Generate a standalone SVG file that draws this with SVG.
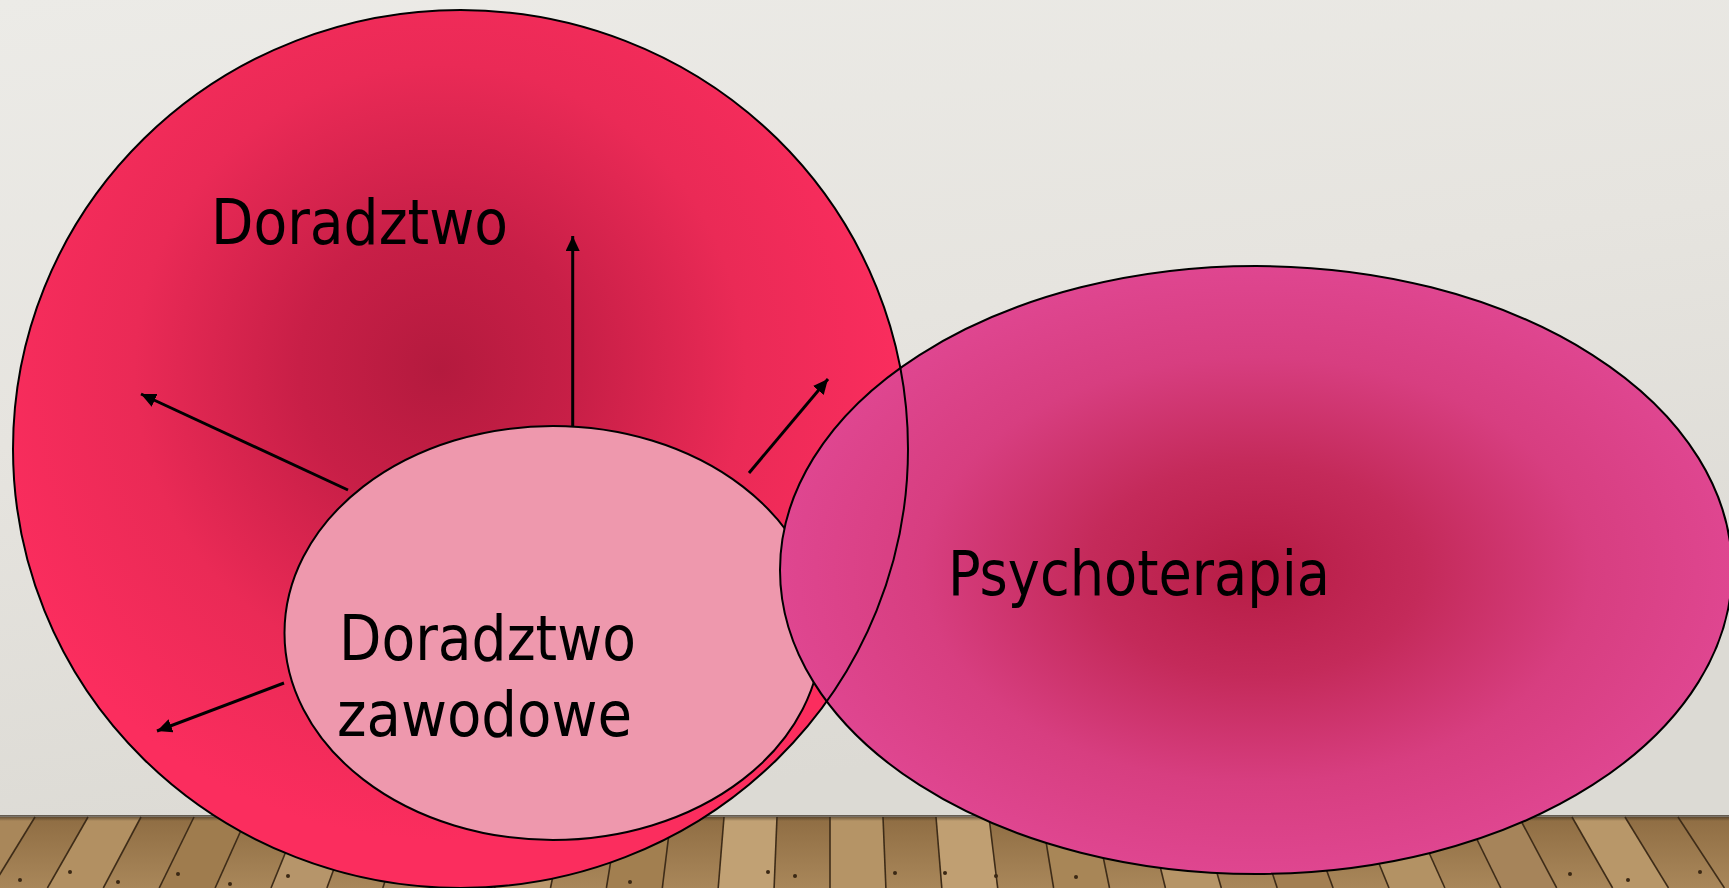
<svg xmlns="http://www.w3.org/2000/svg" width="1729" height="888" viewBox="0 0 1729 888">
<style>
.outline{stroke:#000;stroke-width:2;}
.label{font-family:"DejaVu Sans Condensed","DejaVu Sans",sans-serif;font-stretch:condensed;font-size:63px;fill:#000;}
.conn{stroke:#000;stroke-width:3;fill:none;marker-end:url(#arrow);}
.plankline{stroke:#3e2c18;stroke-width:1.6;}
.nail{fill:#3a2814;}
</style>
<defs>
<linearGradient id="wall" x1="0" y1="0" x2="0.3" y2="1">
<stop offset="0" stop-color="#ecebe7"/>
<stop offset="0.5" stop-color="#e6e4df"/>
<stop offset="1" stop-color="#dcdad4"/>
</linearGradient>
<linearGradient id="floor" x1="0" y1="0" x2="0" y2="1">
<stop offset="0" stop-color="#8f6d43"/>
<stop offset="1" stop-color="#a9875a"/>
</linearGradient>
<linearGradient id="shadow" x1="0" y1="0" x2="0" y2="1">
<stop offset="0" stop-color="#2e2215" stop-opacity="0.75"/>
<stop offset="1" stop-color="#2e2215" stop-opacity="0"/>
</linearGradient>
<radialGradient id="gBig" gradientUnits="userSpaceOnUse" cx="440" cy="370" r="470">
<stop offset="0" stop-color="#b41a3e"/>
<stop offset="0.3" stop-color="#c81f47"/>
<stop offset="0.65" stop-color="#ea2a56"/>
<stop offset="1" stop-color="#fb2d5e"/>
</radialGradient>
<radialGradient id="gPsy" cx="0.5" cy="0.5" r="0.5">
<stop offset="0" stop-color="#b61c44"/>
<stop offset="0.35" stop-color="#c42a5a"/>
<stop offset="0.7" stop-color="#d73e80"/>
<stop offset="1" stop-color="#df4690"/>
</radialGradient>
<marker id="arrow" markerUnits="userSpaceOnUse" markerWidth="18" markerHeight="16" refX="15" refY="7" orient="auto">
<path d="M0,0 L15,7 L0,14 Z" fill="#000"/>
</marker>
</defs>

<g id="background">
<rect x="0" y="0" width="1729" height="817" fill="url(#wall)"/>
<rect x="0" y="817" width="1729" height="71" fill="url(#floor)"/>
<g id="planks">
<polygon points="-18,817 35,817 -8.5,888 -64,888" fill="#a9875a"/>
<polygon points="88,817 141,817 103.3,888 47.4,888" fill="#b29062"/>
<polygon points="194,817 247,817 215.1,888 159.2,888" fill="#9f7c4e"/>
<polygon points="300,817 353,817 326.9,888 271,888" fill="#b6956a"/>
<polygon points="406,817 459,817 438.7,888 382.8,888" fill="#a5835a"/>
<polygon points="512,817 565,817 550.5,888 494.6,888" fill="#b9986c"/>
<polygon points="618,817 671,817 662.3,888 606.4,888" fill="#a27f50"/>
<polygon points="724,817 777,817 774.1,888 718.2,888" fill="#c1a174"/>
<polygon points="830,817 883,817 885.9,888 830,888" fill="#b59466"/>
<polygon points="936,817 989,817 997.7,888 941.8,888" fill="#c09f72"/>
<polygon points="1042,817 1095,817 1109.5,888 1053.6,888" fill="#a88657"/>
<polygon points="1148,817 1201,817 1221.3,888 1165.4,888" fill="#b69567"/>
<polygon points="1254,817 1307,817 1333.1,888 1277.2,888" fill="#a37f52"/>
<polygon points="1360,817 1413,817 1444.9,888 1389,888" fill="#b39264"/>
<polygon points="1466,817 1519,817 1556.7,888 1500.8,888" fill="#a6845a"/>
<polygon points="1572,817 1625,817 1668.5,888 1612.6,888" fill="#b89769"/>
<line class="plankline" x1="-18" y1="817" x2="-64" y2="888"/>
<line class="plankline" x1="35" y1="817" x2="-8.5" y2="888"/>
<line class="plankline" x1="88" y1="817" x2="47.4" y2="888"/>
<line class="plankline" x1="141" y1="817" x2="103.3" y2="888"/>
<line class="plankline" x1="194" y1="817" x2="159.2" y2="888"/>
<line class="plankline" x1="247" y1="817" x2="215.1" y2="888"/>
<line class="plankline" x1="300" y1="817" x2="271" y2="888"/>
<line class="plankline" x1="353" y1="817" x2="326.9" y2="888"/>
<line class="plankline" x1="406" y1="817" x2="382.8" y2="888"/>
<line class="plankline" x1="459" y1="817" x2="438.7" y2="888"/>
<line class="plankline" x1="512" y1="817" x2="494.6" y2="888"/>
<line class="plankline" x1="565" y1="817" x2="550.5" y2="888"/>
<line class="plankline" x1="618" y1="817" x2="606.4" y2="888"/>
<line class="plankline" x1="671" y1="817" x2="662.3" y2="888"/>
<line class="plankline" x1="724" y1="817" x2="718.2" y2="888"/>
<line class="plankline" x1="777" y1="817" x2="774.1" y2="888"/>
<line class="plankline" x1="830" y1="817" x2="830" y2="888"/>
<line class="plankline" x1="883" y1="817" x2="885.9" y2="888"/>
<line class="plankline" x1="936" y1="817" x2="941.8" y2="888"/>
<line class="plankline" x1="989" y1="817" x2="997.7" y2="888"/>
<line class="plankline" x1="1042" y1="817" x2="1053.6" y2="888"/>
<line class="plankline" x1="1095" y1="817" x2="1109.5" y2="888"/>
<line class="plankline" x1="1148" y1="817" x2="1165.4" y2="888"/>
<line class="plankline" x1="1201" y1="817" x2="1221.3" y2="888"/>
<line class="plankline" x1="1254" y1="817" x2="1277.2" y2="888"/>
<line class="plankline" x1="1307" y1="817" x2="1333.1" y2="888"/>
<line class="plankline" x1="1360" y1="817" x2="1389" y2="888"/>
<line class="plankline" x1="1413" y1="817" x2="1444.9" y2="888"/>
<line class="plankline" x1="1466" y1="817" x2="1500.8" y2="888"/>
<line class="plankline" x1="1519" y1="817" x2="1556.7" y2="888"/>
<line class="plankline" x1="1572" y1="817" x2="1612.6" y2="888"/>
<line class="plankline" x1="1625" y1="817" x2="1668.5" y2="888"/>
<line class="plankline" x1="1678" y1="817" x2="1724.4" y2="888"/>
<circle class="nail" cx="20" cy="880" r="2"/>
<circle class="nail" cx="70" cy="872" r="2"/>
<circle class="nail" cx="118" cy="882" r="2"/>
<circle class="nail" cx="178" cy="874" r="2"/>
<circle class="nail" cx="230" cy="884" r="2"/>
<circle class="nail" cx="288" cy="876" r="2"/>
<circle class="nail" cx="630" cy="882" r="2"/>
<circle class="nail" cx="768" cy="872" r="2"/>
<circle class="nail" cx="795" cy="876" r="2"/>
<circle class="nail" cx="895" cy="873" r="2"/>
<circle class="nail" cx="945" cy="873" r="2"/>
<circle class="nail" cx="996" cy="876" r="2"/>
<circle class="nail" cx="1076" cy="877" r="2"/>
<circle class="nail" cx="1570" cy="874" r="2"/>
<circle class="nail" cx="1628" cy="880" r="2"/>
<circle class="nail" cx="1700" cy="872" r="2"/>
</g>
<rect x="0" y="815" width="1729" height="6" fill="url(#shadow)"/>
</g>

<g id="node-doradztwo">
<ellipse cx="460.5" cy="449" rx="447.5" ry="439" fill="url(#gBig)"/>
<text class="label" x="211" y="244" textLength="297" lengthAdjust="spacingAndGlyphs">Doradztwo</text>
</g>

<g id="node-doradztwo-zawodowe">
<ellipse class="outline" cx="553" cy="633" rx="268.5" ry="207" fill="#ee98ad"/>
<text class="label" x="339" y="660" textLength="297" lengthAdjust="spacingAndGlyphs">Doradztwo</text>
<text class="label" x="337" y="736" textLength="295" lengthAdjust="spacingAndGlyphs">zawodowe</text>
</g>

<g id="connectors">
<line class="conn" x1="572.7" y1="426" x2="572.7" y2="236"/>
<line class="conn" x1="348" y1="490" x2="141" y2="394"/>
<line class="conn" x1="749" y1="473" x2="828" y2="379"/>
<line class="conn" x1="284" y1="683" x2="157" y2="731"/>
</g>

<g id="node-psychoterapia">
<ellipse class="outline" cx="1256" cy="570" rx="476" ry="304" fill="url(#gPsy)"/>
<text class="label" x="948" y="595" textLength="382" lengthAdjust="spacingAndGlyphs">Psychoterapia</text>
</g>

<g id="node-doradztwo-outline">
<ellipse class="outline" cx="460.5" cy="449" rx="447.5" ry="439" fill="none"/>
</g>
</svg>
